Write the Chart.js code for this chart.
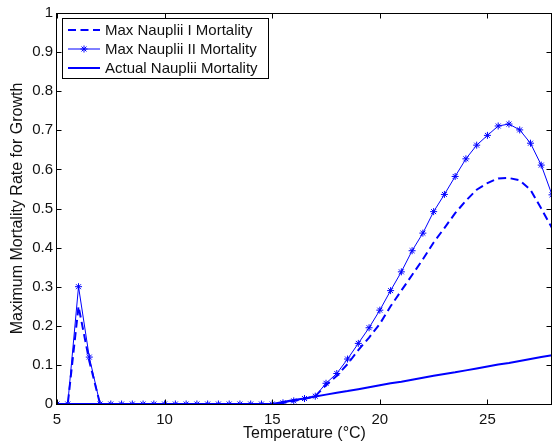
<!DOCTYPE html>
<html>
<head>
<meta charset="utf-8">
<script src="https://cdn.jsdelivr.net/npm/chart.js@4.4.0/dist/chart.umd.min.js"></script>
<style>
  html, body { margin: 0; padding: 0; background: #fff; }
  #wrap { width: 557px; height: 448px; position: relative; }
</style>
</head>
<body>
<div id="wrap"><canvas id="chart"></canvas></div>
<script>
// --- Data ---
const temps = [5, 5.5, 6, 6.5, 7, 7.5, 8, 8.5, 9, 9.5, 10, 10.5, 11, 11.5, 12, 12.5,
  13, 13.5, 14, 14.5, 15, 15.5, 16, 16.5, 17, 17.5, 18, 18.5, 19, 19.5, 20, 20.5,
  21, 21.5, 22, 22.5, 23, 23.5, 24, 24.5, 25, 25.5, 26, 26.5, 27, 27.5, 28];

const maxNaupliiI = [0, 0, 0.25, 0.11, 0, 0, 0, 0, 0, 0, 0, 0, 0, 0, 0, 0,
  0, 0, 0, 0, 0, 0.003, 0.008, 0.013, 0.02, 0.048, 0.072, 0.102, 0.138, 0.17, 0.205, 0.25,
  0.29, 0.33, 0.37, 0.413, 0.45, 0.488, 0.52, 0.548, 0.565, 0.577, 0.578, 0.572, 0.548, 0.5, 0.45];

const maxNaupliiII = [0, 0, 0.3, 0.12, 0, 0, 0, 0, 0, 0, 0, 0, 0, 0, 0, 0,
  0, 0, 0, 0, 0, 0.003, 0.008, 0.014, 0.02, 0.053, 0.078, 0.115, 0.155, 0.195, 0.24, 0.29,
  0.338, 0.392, 0.437, 0.492, 0.536, 0.582, 0.627, 0.662, 0.687, 0.711, 0.716, 0.701, 0.667, 0.611, 0.535];

const actualNauplii = [0, 0, 0, 0, 0, 0, 0, 0, 0, 0, 0, 0, 0, 0, 0, 0,
  0, 0, 0, 0, 0, 0.005, 0.01, 0.014, 0.019, 0.024, 0.029, 0.033, 0.038, 0.043, 0.048, 0.053,
  0.057, 0.062, 0.067, 0.072, 0.077, 0.081, 0.086, 0.091, 0.096, 0.101, 0.105, 0.11, 0.115, 0.12, 0.125];

const xTicks = [5, 10, 15, 20, 25];
const yTicks = [0, 0.1, 0.2, 0.3, 0.4, 0.5, 0.6, 0.7, 0.8, 0.9, 1];
const yTickLabels = ['0', '0.1', '0.2', '0.3', '0.4', '0.5', '0.6', '0.7', '0.8', '0.9', '1'];

const BLUE = '#0000ff';
const FONT = "'Liberation Sans', Arial, sans-serif";
const DASH = [8, 4.5];

function points(values) {
  return temps.map((t, i) => ({ x: t, y: values[i] }));
}

// --- MATLAB-style box, inward ticks and legend ---
const matlabFrame = {
  id: 'matlabFrame',
  afterDatasetsDraw(chart) {
    const { ctx, chartArea: a, scales: { x, y } } = chart;
    const L = Math.round(a.left) - 0.5, R = Math.round(a.right) - 0.5;
    const T = Math.round(a.top) + 0.5, B = Math.round(a.bottom) + 0.5;
    ctx.save();
    ctx.strokeStyle = '#000';
    ctx.lineWidth = 1;
    ctx.strokeRect(L, T, R - L, B - T);

    const tl = 5;
    ctx.beginPath();
    xTicks.forEach(v => {
      const px = Math.round(x.getPixelForValue(v)) + 0.5;
      ctx.moveTo(px, B); ctx.lineTo(px, B - tl);
      ctx.moveTo(px, T); ctx.lineTo(px, T + tl);
    });
    yTicks.forEach(v => {
      const py = Math.round(y.getPixelForValue(v)) + 0.5;
      ctx.moveTo(L, py); ctx.lineTo(L + tl, py);
      ctx.moveTo(R, py); ctx.lineTo(R - tl, py);
    });
    ctx.stroke();

    // legend
    const bx = 62.5, by = 18.5, bw = 206, bh = 60;
    ctx.fillStyle = '#fff';
    ctx.fillRect(bx, by, bw, bh);
    ctx.strokeRect(bx, by, bw, bh);

    const rows = [30, 49, 68];
    const x0 = 68, x1 = 100;
    ctx.strokeStyle = BLUE;
    // dashed
    ctx.lineWidth = 2;
    ctx.setLineDash(DASH);
    ctx.beginPath(); ctx.moveTo(x0, rows[0]); ctx.lineTo(x1, rows[0]); ctx.stroke();
    ctx.setLineDash([]);
    // marker line
    ctx.lineWidth = 1;
    ctx.beginPath(); ctx.moveTo(x0, rows[1]); ctx.lineTo(x1, rows[1]); ctx.stroke();
    Chart.helpers.drawPoint(ctx, { pointStyle: 'star', radius: 3.5, borderWidth: 1 }, (x0 + x1) / 2, rows[1]);
    // solid
    ctx.lineWidth = 2;
    ctx.beginPath(); ctx.moveTo(x0, rows[2]); ctx.lineTo(x1, rows[2]); ctx.stroke();

    ctx.fillStyle = '#111';
    ctx.font = '15px ' + FONT;
    ctx.textBaseline = 'middle';
    ctx.textAlign = 'left';
    const names = chart.data.datasets.map(d => d.label);
    names.forEach((n, i) => ctx.fillText(n, 105, rows[i] + 1));
    ctx.restore();
  }
};

new Chart(document.getElementById('chart'), {
  type: 'line',
  data: {
    datasets: [
      {
        label: 'Max Nauplii I Mortality',
        data: points(maxNaupliiI),
        borderColor: BLUE,
        borderWidth: 2,
        borderDash: DASH,
        pointRadius: 0,
        tension: 0,
      },
      {
        label: 'Max Nauplii II Mortality',
        data: points(maxNaupliiII),
        borderColor: BLUE,
        backgroundColor: BLUE,
        borderWidth: 1,
        pointStyle: 'star',
        pointRadius: 3.5,
        pointBorderWidth: 1,
        pointBorderColor: BLUE,
        tension: 0,
      },
      {
        label: 'Actual Nauplii Mortality',
        data: points(actualNauplii),
        borderColor: BLUE,
        borderWidth: 2,
        pointRadius: 0,
        tension: 0,
      },
    ],
  },
  options: {
    responsive: true,
    maintainAspectRatio: false,
    animation: false,
    events: [],
    layout: { padding: { top: 12, right: 3, left: 0, bottom: 0 } },
    plugins: {
      legend: { display: false },
      tooltip: { enabled: false },
    },
    scales: {
      x: {
        type: 'linear',
        min: 5,
        max: 28,
        afterBuildTicks: s => { s.ticks = xTicks.map(v => ({ value: v })); },
        afterFit: s => { s.height = 44; s.paddingLeft = 0; s.paddingRight = 0; },
        grid: { display: false, drawTicks: false },
        border: { display: false },
        ticks: { color: '#111', font: { family: FONT, size: 15 }, padding: 7, maxRotation: 0 },
        title: {
          display: true,
          text: 'Temperature (°C)',
          color: '#111',
          font: { family: FONT, size: 16 },
          padding: { top: 0, bottom: 5 },
        },
      },
      y: {
        min: 0,
        max: 1,
        afterBuildTicks: s => { s.ticks = yTicks.map(v => ({ value: v })); },
        afterFit: s => { s.width = 57; },
        grid: { display: false, drawTicks: false },
        border: { display: false },
        ticks: {
          color: '#111',
          font: { family: FONT, size: 15 },
          padding: 4,
          callback: (v, i) => yTickLabels[i],
        },
        title: {
          display: true,
          text: 'Maximum Mortality Rate for Growth',
          color: '#111',
          font: { family: FONT, size: 16 },
          padding: { top: 8, bottom: 0 },
        },
      },
    },
  },
  plugins: [matlabFrame],
});
</script>
</body>
</html>
